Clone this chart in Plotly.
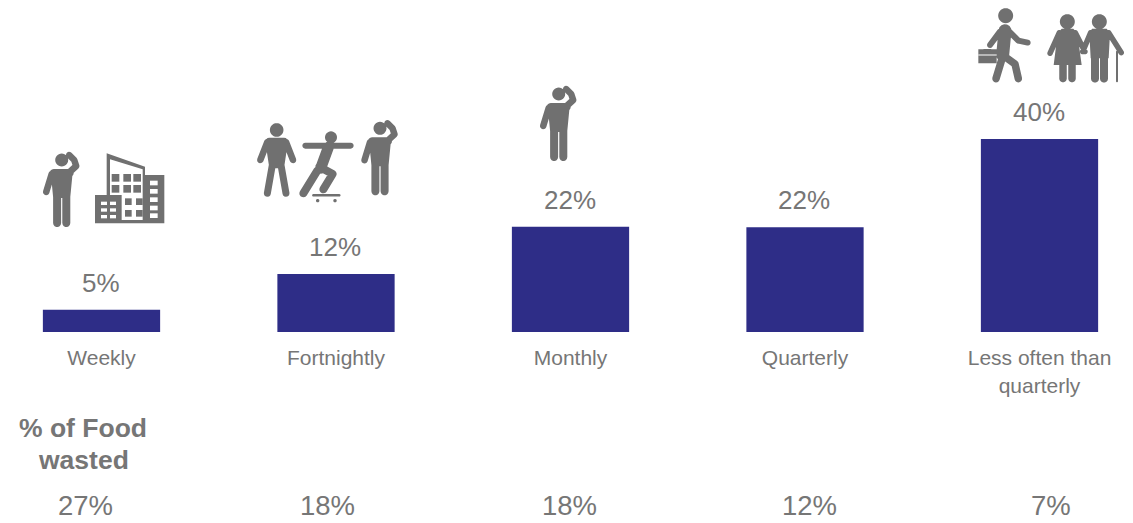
import numpy as np
import plotly.graph_objects as go

categories = ["Weekly", "Fortnightly", "Monthly", "Quarterly", "Less often than<br>quarterly"]
bar_values = [4.6, 12, 21.8, 21.7, 40]
bar_labels = ["5%", "12%", "22%", "22%", "40%"]
food_wasted = ["27%", "18%", "18%", "12%", "7%"]
food_title_lines = ["<b>% of Food</b>", "<b>wasted</b>"]

W, H = 1133, 523
BASE = 332
PX_PER_UNIT = 4.825
BAR = "#2e2d87"
GREY = "#767676"
ICON = "#707070"
FONT = "Liberation Sans, Arial, sans-serif"
food_x_px = [85, 327.5, 569, 810, 1051]
title_y_px = [428, 460]


def px(x, y):
    return x / W, (BASE - y) / BASE


def poly(points):
    pts = [px(*p) for p in points]
    return "M" + " L".join(f"{a:.5f},{b:.5f}" for a, b in pts) + " Z"


def ccw(points):
    a = np.array(points)
    area = np.sum(a[:, 0] * np.roll(a[:, 1], -1) - np.roll(a[:, 0], -1) * a[:, 1])
    return points if area > 0 else points[::-1]


def disc(c, r):
    t = np.linspace(0, 2 * np.pi, 28, endpoint=False)
    return poly(ccw([(c[0] + r * np.cos(a), c[1] + r * np.sin(a)) for a in t]))


def limb(path, w):
    out = []
    for (a, b) in zip(path[:-1], path[1:]):
        ang = np.arctan2(b[1] - a[1], b[0] - a[0])
        t1 = np.linspace(ang + np.pi / 2, ang + 3 * np.pi / 2, 8)
        t2 = np.linspace(ang - np.pi / 2, ang + np.pi / 2, 8)
        pts = [(a[0] + w / 2 * np.cos(t), a[1] + w / 2 * np.sin(t)) for t in t1]
        pts += [(b[0] + w / 2 * np.cos(t), b[1] + w / 2 * np.sin(t)) for t in t2]
        out.append(poly(ccw(pts)))
    return " ".join(out)


shapes = []


def add(path, color=ICON):
    shapes.append(dict(type="path", xref="paper", yref="paper", path=path, fillcolor=color,
                       line=dict(width=0), layer="above", fillrule="nonzero"))


def phone_person(hx, hy):
    T = lambda p: (hx + p[0], hy + p[1])
    parts = [
        disc((hx, hy), 6.5),
        limb([T((-8, 13)), T((8, 13))], 8),
        poly(ccw([T(p) for p in [(-11, 12), (11, 12), (8.5, 38), (-8.5, 38)]])),
        limb([T((-10, 14)), T((-15.5, 32))], 6.5),
        limb([T((8, 12)), T((14.5, 6)), T((12.5, 0)), T((7.5, -5))], 6.5),
        limb([T((-4.6, 32)), T((-4.6, 63))], 8),
        limb([T((4.6, 32)), T((4.6, 63))], 8),
    ]
    add(" ".join(parts))


def building():
    T = lambda x, y: (30 + x / 3, 110 + y / 3)
    add(poly(ccw([T(*p) for p in [(230, 130), (345, 170), (345, 195), (403, 195), (403, 340),
                                  (195, 340), (195, 255), (230, 255)]])))
    add(poly(ccw([T(*p) for p in [(240, 148), (338, 178), (338, 330), (275, 330), (275, 255), (240, 255)]])), "white")
    def rect(x, y, w, h, c):
        add(poly(ccw([T(x, y), T(x + w, y), T(x + w, y + h), T(x, y + h)])), c)
    for x in (245, 280, 310):
        for y in (192, 225):
            rect(x, y, 23, 23, ICON)
    for x in (285, 318):
        for y in (265, 300):
            rect(x, y, 20, 20, ICON)
    for x in (213, 240):
        for y in (275, 295, 315):
            rect(x, y, 18, 10, "white")
    for y in (212, 237, 262, 287, 310):
        rect(360, y, 23, 14, "white")


def standing():
    T = lambda x, y: (30 + x / 3, 110 + y / 3)
    parts = [
        disc(T(740, 60), 6.8),
        limb([T(718, 95), T(762, 95)], 8),
        poly(ccw([T(*p) for p in [(706, 95), (774, 95), (762, 175), (718, 175)]])),
        limb([T(712, 96), T(691, 150)], 6.5),
        limb([T(768, 96), T(789, 150)], 6.5),
        limb([T(727, 165), T(712, 250)], 7),
        limb([T(753, 165), T(768, 250)], 7),
    ]
    add(" ".join(parts))


def skater():
    T = lambda x, y: (30 + x / 3, 110 + y / 3)
    parts = [
        disc(T(903, 82), 6),
        limb([T(826, 107), T(962, 107)], 6),
        limb([T(895, 112), T(872, 175)], 11),
        limb([T(862, 182), T(820, 250)], 8),
        limb([T(868, 170), T(908, 192), T(880, 238)], 8),
        limb([T(850, 256), T(928, 256)], 2.5),
        disc(T(863, 272), 1.7),
        disc(T(915, 272), 1.7),
    ]
    add(" ".join(parts))


def walker():
    T = lambda x, y: (960 + x / 3, y / 3)
    parts = [
        disc(T(137, 47), 7.5),
        limb([T(135, 92), T(128, 165)], 13),
        limb([T(145, 92), T(175, 122), T(203, 128)], 6),
        limb([T(120, 95), T(90, 135)], 6),
        limb([T(128, 170), T(108, 236)], 7.5),
        limb([T(135, 170), T(165, 192), T(175, 236)], 7.5),
        limb([T(72, 150), T(92, 150)], 2),
        poly(ccw([T(55, 148), T(110, 148), T(110, 190), T(55, 190)])),
    ]
    add(" ".join(parts))
    add(limb([T(56, 165), T(109, 165)], 1), "white")


def couple():
    T = lambda x, y: (960 + x / 3, y / 3)
    parts = [
        disc(T(322, 65), 7.5),
        poly(ccw([T(*p) for p in [(305, 86), (340, 86), (352, 100), (365, 195), (281, 195), (293, 100)]])),
        limb([T(298, 98), T(270, 160)], 5.5),
        limb([T(346, 98), T(375, 155)], 5.5),
        limb([T(309, 190), T(309, 236)], 7.5),
        limb([T(336, 190), T(336, 236)], 7.5),
        disc(T(418, 65), 7.5),
        poly(ccw([T(*p) for p in [(396, 86), (440, 86), (450, 100), (446, 175), (392, 175), (388, 100)]])),
        limb([T(392, 98), T(368, 155)], 5.5),
        limb([T(446, 98), T(484, 158)], 5.5),
        limb([T(405, 170), T(405, 236)], 8),
        limb([T(432, 170), T(432, 236)], 8),
        limb([T(471, 155), T(471, 244)], 2),
    ]
    add(" ".join(parts))


phone_person(61.7, 160)
building()
standing()
skater()
phone_person(380, 128.3)
phone_person(558.7, 94)
walker()
couple()

fig = go.Figure(go.Bar(x=categories, y=bar_values, marker=dict(color=BAR, line=dict(width=0)),
                       width=0.5, showlegend=False, hoverinfo="skip"))

annotations = []
for c, v, t in zip(categories, bar_values, bar_labels):
    annotations.append(dict(x=c, y=v, text=t, xref="x", yref="y", showarrow=False, yanchor="bottom",
                            xshift=-1, yshift=10, font=dict(size=26, color=GREY, family=FONT)))
for xp, t in zip(food_x_px, food_wasted):
    annotations.append(dict(x=xp / W, y=(BASE - 506) / BASE, text=t, xref="paper", yref="paper",
                            xanchor="center", yanchor="middle", showarrow=False, borderpad=0,
                            font=dict(size=27.5, color=GREY, family=FONT)))
for yp, t in zip(title_y_px, food_title_lines):
    annotations.append(dict(x=83 / W, y=(BASE - yp) / BASE, text=t, xref="paper", yref="paper",
                            xanchor="center", yanchor="middle", showarrow=False,
                            font=dict(size=26.5, color=GREY, family=FONT)))

fig.update_layout(
    width=W, height=H, margin=dict(l=0, r=0, t=0, b=H - BASE), paper_bgcolor="white", plot_bgcolor="white",
    xaxis=dict(type="category", range=[-101.5 / 234.5, (W - 101.5) / 234.5], showgrid=False, zeroline=False,
               showline=False, ticks="outside", ticklen=7, tickcolor="rgba(0,0,0,0)",
               tickfont=dict(size=21, color=GREY, family=FONT), tickangle=0, automargin=False),
    yaxis=dict(range=[0, BASE / PX_PER_UNIT], visible=False, fixedrange=True),
    annotations=annotations, shapes=shapes, showlegend=False,
)
fig.write_html("out.html", config={"displayModeBar": False},
               post_script="document.body.style.margin='0';")
